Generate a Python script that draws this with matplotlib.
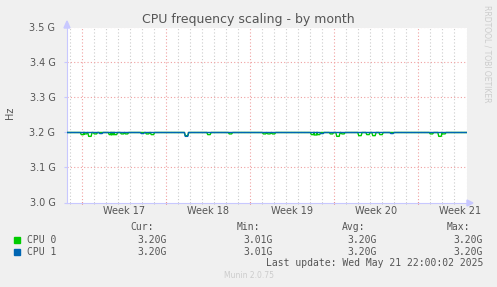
import matplotlib
matplotlib.use("Agg")
import matplotlib.pyplot as plt
from matplotlib.ticker import FuncFormatter, MultipleLocator

# x axis in days since Monday of week 17 (Apr 21 2025)
x_start, x_end = -1.33, 32.0
week_labels = ["Week 17", "Week 18", "Week 19", "Week 20", "Week 21"]
week_starts = [0, 7, 14, 21, 28]

base = 3.2e9
# dips: (day, Hz)
cpu0_dips = [(0.0, 3.194e9), (0.25, 3.196e9), (0.62, 3.189e9), (1.08, 3.196e9),
             (2.33, 3.194e9), (2.5, 3.194e9), (2.75, 3.194e9), (3.33, 3.196e9),
             (3.67, 3.196e9), (5.42, 3.196e9), (5.83, 3.194e9), (8.67, 3.191e9),
             (10.54, 3.194e9), (12.33, 3.196e9), (15.17, 3.196e9), (15.54, 3.196e9),
             (15.92, 3.196e9), (19.17, 3.194e9), (19.42, 3.193e9), (19.67, 3.194e9),
             (20.75, 3.196e9), (21.29, 3.189e9), (21.71, 3.196e9), (23.12, 3.191e9),
             (23.79, 3.194e9), (24.29, 3.191e9), (24.88, 3.194e9), (29.08, 3.196e9),
             (29.79, 3.189e9), (30.12, 3.196e9)]
cpu1_dips = [(1.54, 3.197e9), (5.0, 3.197e9), (8.67, 3.189e9), (19.96, 3.197e9),
             (25.79, 3.197e9)]

legend_names = ["CPU 0", "CPU 1"]
legend_cur = ["3.20G", "3.20G"]
legend_min = ["3.01G", "3.01G"]
legend_avg = ["3.20G", "3.20G"]
legend_max = ["3.20G", "3.20G"]
colors = ["#00cc00", "#0066b3"]


def line_from_dips(dips):
    xs, ys = [x_start], [base]
    for d, v in dips:
        xs += [d - 0.18, d - 0.1, d + 0.1, d + 0.18]
        ys += [base, v, v, base]
    xs.append(x_end)
    ys.append(base)
    return xs, ys


bg = "#f0f0f0"
txt = "#555555"
axcol = "#c8c8ff"
W, H = 497, 287
fig = plt.figure(figsize=(W / 100, H / 100), dpi=100, facecolor=bg)
# half-pixel offsets so 1px lines land on pixel rows/columns
ax = fig.add_axes([66.5 / W, (H - 203 + 0.5) / H, 400 / W, 175 / H])
ax.set_facecolor("white")

ax.set_xlim(x_start, x_end)
ax.set_ylim(3.0e9, 3.5e9)

# grid
for d in range(-1, 33):
    if d in week_starts:
        continue
    ax.axvline(d, color="#cccccc", lw=0.8, ls=(0, (1, 2)), zorder=1)
for d in week_starts:
    ax.axvline(d, color="#f0a0a0", lw=0.8, ls=(0, (1, 2)), zorder=1)
for v in [3.1e9, 3.2e9, 3.3e9, 3.4e9, 3.5e9]:
    ax.axhline(v, color="#f0a0a0", lw=0.8, ls=(0, (1, 2)), zorder=1)

for dips, c in zip([cpu0_dips, cpu1_dips], colors):
    xs, ys = line_from_dips(dips)
    ax.plot(xs, ys, color=c, lw=1.0, zorder=3)

for s in ["top", "right"]:
    ax.spines[s].set_visible(False)
for s in ["left", "bottom"]:
    ax.spines[s].set_color(axcol)
    ax.spines[s].set_linewidth(0.8)

ax.yaxis.set_major_locator(MultipleLocator(0.1e9))
ax.yaxis.set_major_formatter(FuncFormatter(lambda v, p: f"{v / 1e9:.1f} G"))
ax.tick_params(axis="y", colors=axcol, labelcolor=txt, labelsize=7, length=2, pad=6)
ax.set_xticks(week_starts)
ax.set_xticklabels([])
ax.set_xticks(range(-1, 33), minor=True)
ax.tick_params(axis="x", which="major", colors="#e06060", length=2, direction="inout")
ax.tick_params(axis="x", which="minor", colors="#bbbbbb", length=2, direction="inout")
for d, lab in zip(week_starts, week_labels):
    ax.text(d + 3.5, -0.05, lab, transform=ax.get_xaxis_transform(), ha="center",
            va="center", fontsize=7, color=txt)

# axis arrows
fig.patches.append(plt.Polygon([[64 / W, 1 - 28 / H], [70 / W, 1 - 28 / H], [67 / W, 1 - 21 / H]],
                               closed=True, color=axcol, transform=fig.transFigure))
fig.patches.append(plt.Polygon([[467 / W, 1 - 200 / H], [467 / W, 1 - 206 / H], [473 / W, 1 - 203 / H]],
                               closed=True, color=axcol, transform=fig.transFigure))

fig.text(248.5 / W, 1 - 19 / H, "CPU frequency scaling - by month", ha="center", va="center",
         fontsize=9, color=txt)
fig.text(10 / W, 1 - 113 / H, "Hz", rotation=90, ha="center", va="center", fontsize=7, color=txt)
fig.text(487 / W, 1 - 5 / H, "RRDTOOL / TOBI OETIKER", rotation=270, ha="center", va="top",
         fontsize=5.5, color="#cccccc")

mono = "DejaVu Sans Mono"
hy = 1 - 227 / H
for xr, lab in zip([154, 260, 365, 470], ["Cur:", "Min:", "Avg:", "Max:"]):
    fig.text(xr / W, hy, lab, ha="right", va="center", fontsize=7, family=mono, color=txt)
for i, name in enumerate(legend_names):
    y = 1 - (240 + 12 * i) / H
    fig.patches.append(plt.Rectangle((14 / W, y - 3 / H), 6 / W, 6 / H, color=colors[i],
                                     transform=fig.transFigure))
    fig.text(27 / W, y, name, ha="left", va="center", fontsize=7, family=mono, color=txt)
    for xr, val in zip([167, 273, 377, 483],
                       [legend_cur[i], legend_min[i], legend_avg[i], legend_max[i]]):
        fig.text(xr / W, y, val, ha="right", va="center", fontsize=7, family=mono, color=txt)
fig.text(483 / W, 1 - 263 / H, "Last update: Wed May 21 22:00:02 2025", ha="right", va="center",
         fontsize=7, family=mono, color=txt)
fig.text(248.5 / W, 1 - 276 / H, "Munin 2.0.75", ha="center", va="center", fontsize=5.5,
         color="#cccccc")

fig.savefig("out.png", dpi=100, facecolor=bg)
